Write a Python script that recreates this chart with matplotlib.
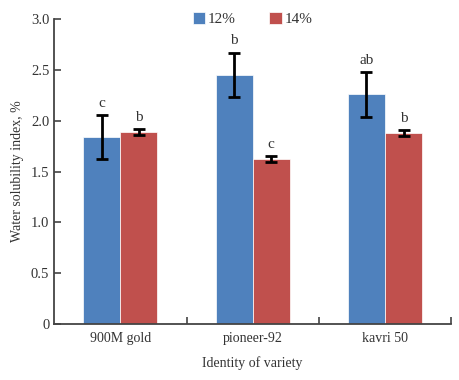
import matplotlib
matplotlib.use('Agg')
import matplotlib.pyplot as plt
import numpy as np

# data
varieties = ['900M gold', 'pioneer-92', 'kavri 50']
series = ['12%', '14%']
wsi_12 = [1.84, 2.45, 2.26]
wsi_14 = [1.89, 1.62, 1.88]
err_12 = [0.22, 0.22, 0.22]
err_14 = [0.03, 0.03, 0.03]
letters_12 = ['c', 'b', 'ab']
letters_14 = ['b', 'c', 'b']

plt.rcParams['font.family'] = ['Liberation Serif', 'DejaVu Serif']
txt = '#333333'

fig = plt.figure(figsize=(4.59, 3.80), dpi=100)
ax = fig.add_axes([0.118, 0.147, 0.865, 0.803])

x = np.arange(len(varieties))
w = 0.28
b1 = ax.bar(x - w / 2, wsi_12, w, color='#4F81BD', edgecolor='white', linewidth=0.5, label=series[0])
b2 = ax.bar(x + w / 2, wsi_14, w, color='#C0504D', edgecolor='white', linewidth=0.5, label=series[1])
ax.errorbar(x - w / 2, wsi_12, yerr=err_12, fmt='none', ecolor='black', elinewidth=2, capsize=4, capthick=2)
ax.errorbar(x + w / 2, wsi_14, yerr=err_14, fmt='none', ecolor='black', elinewidth=2, capsize=4, capthick=2)

# significance letters above the error bars
for i in range(len(varieties)):
    ax.text(x[i] - w / 2, wsi_12[i] + err_12[i] + 0.05, letters_12[i], ha='center', va='bottom', fontsize=11, color=txt)
    ax.text(x[i] + w / 2, wsi_14[i] + err_14[i] + 0.05, letters_14[i], ha='center', va='bottom', fontsize=11, color=txt)

ax.set_xlim(-0.5, 2.5)
ax.set_ylim(0, 3.0)
ax.set_yticks([0, 0.5, 1.0, 1.5, 2.0, 2.5, 3.0])
ax.set_yticklabels(['0', '0.5', '1.0', '1.5', '2.0', '2.5', '3.0'])
ax.set_xticks(x)
ax.set_xticklabels(varieties)
ax.set_xticks([0.5, 1.5, 2.5], minor=True)
ax.tick_params(axis='x', which='major', length=0, labelsize=10, labelcolor=txt, pad=6)
ax.tick_params(axis='x', which='minor', direction='in', length=5, width=1.2, color='#444444')
ax.tick_params(axis='y', direction='in', length=5, width=1.2, color='#444444', labelsize=10.5, labelcolor=txt)

for s in ['top', 'right']:
    ax.spines[s].set_visible(False)
for s in ['left', 'bottom']:
    ax.spines[s].set_color('#444444')
    ax.spines[s].set_linewidth(1.3)

ax.set_xlabel('Identity of variety', fontsize=10, color=txt, labelpad=8)
ax.set_ylabel('Water solubility index, %', fontsize=10, color=txt, labelpad=5)

ax.legend(loc='center', bbox_to_anchor=(0.5, 1.0), ncol=2, frameon=False, fontsize=11,
          handlelength=0.8, handleheight=0.8, columnspacing=2.2, handletextpad=0.2, labelcolor=txt)

fig.savefig('out.png', dpi=100)
